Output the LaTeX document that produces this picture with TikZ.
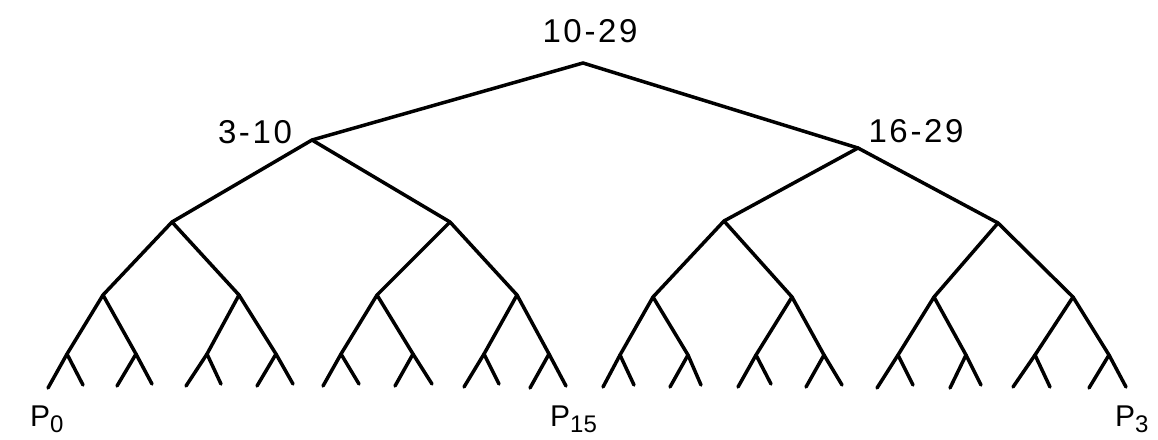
\documentclass[tikz,border=0pt]{standalone}
\usepackage{fontspec}
\setmainfont{Liberation Sans}
\newfontfamily\labfont[LetterSpace=8]{Liberation Sans}
\tikzset{
  edge/.style={line width=3.5pt, line cap=round, line join=round, black},
  lab/.style={inner sep=0pt, font=\labfont\fontsize{33}{33}\selectfont},
  plab/.style={inner sep=0pt, anchor=base west, font=\fontsize{30}{30}\selectfont}
}
\newcommand{\psub}[2]{#1{\fontsize{24}{24}\selectfont\raisebox{-6pt}{#2}}}
\begin{document}
\begin{tikzpicture}[x=1pt,y=-1pt]
\useasboundingbox (0,0) rectangle (1158,439);
% level 0 and 1
\coordinate (r) at (583,63);
\coordinate (a1) at (312,140);
\coordinate (a2) at (858,148);
% level 2
\coordinate (b1) at (172,222);
\coordinate (b2) at (450,222);
\coordinate (b3) at (724,221);
\coordinate (b4) at (998,223);
% level 3
\foreach \i/\x/\y in {1/103/295,2/239/295,3/377/295,4/517/295,5/653/297,6/792/297,7/934/297,8/1073/297}
  \coordinate (c\i) at (\x,\y);
% level 4
\foreach \i/\x/\y in {1/67/354,2/136/354,3/207/354,4/276/354,5/341/354,6/413/354,7/484/354,8/549/354,
  9/620/355,10/688/355,11/756/355,12/824/355,13/898/355,14/966/355,15/1035/355,16/1109/355}
  \coordinate (d\i) at (\x,\y);
% leaves
\foreach \i/\x/\y in {1/48/388,2/83/385,3/117/386,4/152/384,5/186/386,6/221/384,7/257/386,8/293/384,
  9/323/386,10/359/384,11/395/386,12/432/384,13/464/387,14/499/384,15/530/388,16/566/386,
  17/603/387,18/634/385,19/670/387,20/701/385,21/738/387,22/771/384,23/806/387,24/842/385,
  25/877/388,26/913/385,27/950/388,28/981/385,29/1013/387,30/1050/387,31/1089/388,32/1126/387}
  \coordinate (l\i) at (\x,\y);
% edges
\foreach \i in {1,2} \draw[edge] (r) -- (a\i);
\foreach \i in {1,...,4} {\pgfmathtruncatemacro\p{(\i+1)/2}\draw[edge] (a\p) -- (b\i);}
\foreach \i in {1,...,8} {\pgfmathtruncatemacro\p{(\i+1)/2}\draw[edge] (b\p) -- (c\i);}
\foreach \i in {1,...,16} {\pgfmathtruncatemacro\p{(\i+1)/2}\draw[edge] (c\p) -- (d\i);}
\foreach \i in {1,...,32} {\pgfmathtruncatemacro\p{(\i+1)/2}\draw[edge] (d\p) -- (l\i);}
% labels
\node[lab] (t0) at (590,31) {10-29};
\node[lab] (t1) at (255,132) {3-10};
\node[lab] (t2) at (916,131) {16-29};
\node[plab] (p0) at (30,426) {\psub{P}{0}};
\node[plab] (p15) at (550,426) {\psub{P}{15}};
\node[plab] (p3) at (1115,426) {\psub{P}{3}};
\end{tikzpicture}
\end{document}
